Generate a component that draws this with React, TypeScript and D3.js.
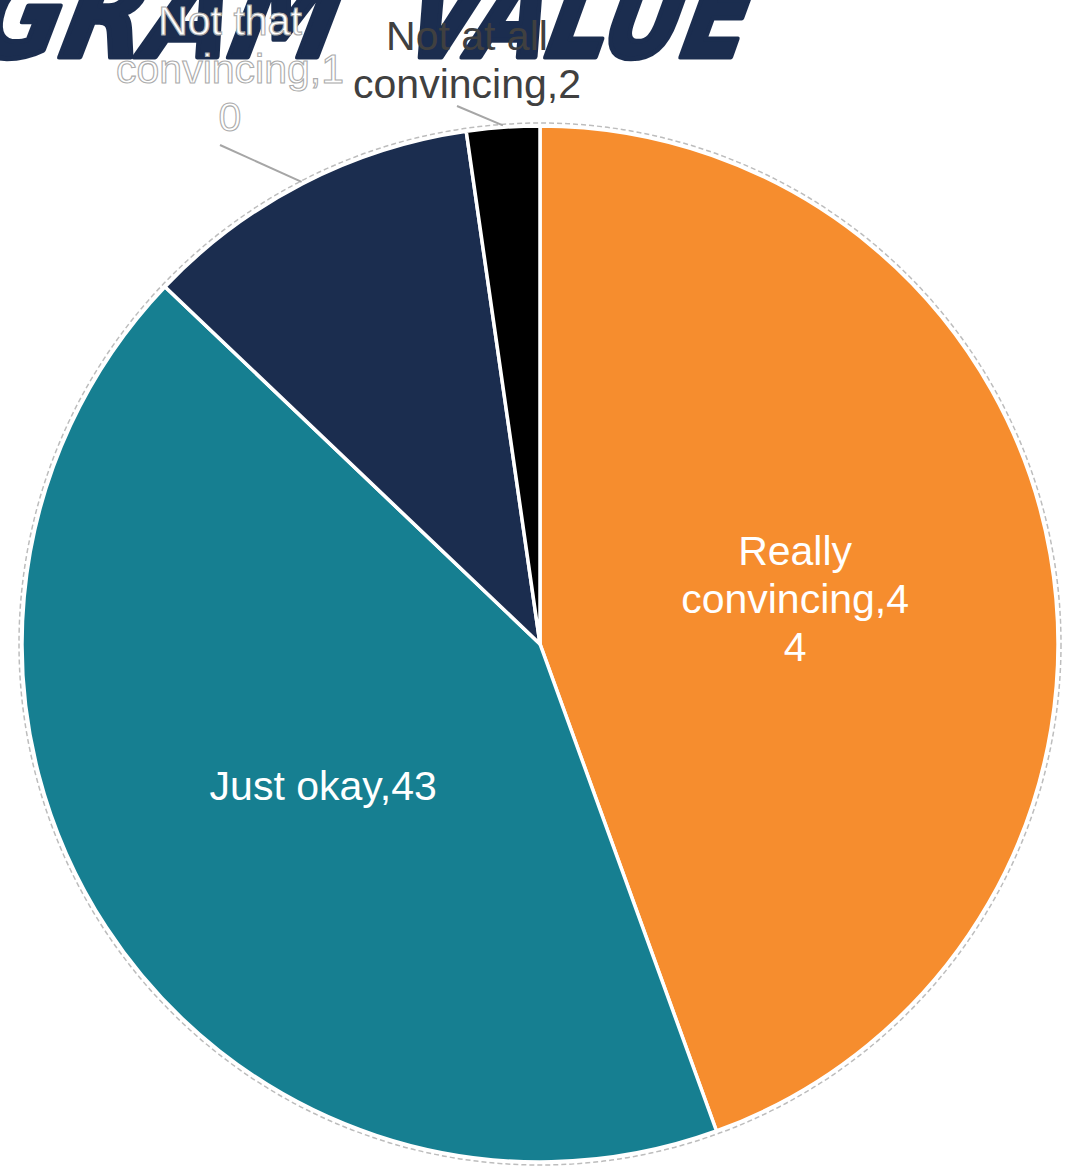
import React from "react";
import * as d3 from "d3";

const categories = ["Really convincing", "Just okay", "Not that convincing", "Not at all convincing"];
const values = [44, 42.2, 10.5, 2.25];
const valueLabels = ["44", "43", "10", "2"];
const colors = ["#f68d2e", "#167f91", "#1b2d4f", "#000000"];
const titleWords = ["PROGRAM", "VALUE"];

const W = 1068;
const H = 1166;
const cx = 540;
const cy = 644;
const R = 518;
const FONT = "'Liberation Sans', Arial, sans-serif";
const LINE = 48;

type Datum = { label: string; value: number; color: string; vlabel: string };
const data: Datum[] = categories.map((c, i) => ({ label: c, value: values[i], color: colors[i], vlabel: valueLabels[i] }));

// label text lines (Excel-style wrapping of "Category,Value")
const labelLines: string[][] = [
  ["Really", "convincing,4", "4"],
  ["Just okay,43"],
  ["Not that", "convincing,1", "0"],
  ["Not at all", "convincing,2"],
];

export default function App() {
  const pie = d3.pie<Datum>().value((d) => d.value).sort(null);
  const arcs = pie(data);
  const arc = d3.arc<d3.PieArcDatum<Datum>>().innerRadius(0).outerRadius(R);
  const outerPoint = d3.arc<d3.PieArcDatum<Datum>>().innerRadius(R + 2).outerRadius(R + 2);

  const outside: Record<number, { x: number; y: number; fill: string; stroke: string; lineEnd: [number, number] }> = {
    2: { x: 230, y: 35, fill: "#ffffff", stroke: "#ababab", lineEnd: [220, 145] },
    3: { x: 467, y: 50, fill: "#404040", stroke: "none", lineEnd: [457, 106] },
  };

  const skew = -12;
  const skewShift = -57 * Math.tan((skew * Math.PI) / 180);

  return (
    <svg
      width={W}
      height={H}
      style={{ position: "absolute", left: 0, top: 0, display: "block" }}
      viewBox={`0 0 ${W} ${H}`}
    >
      <rect x={0} y={0} width={W} height={H} fill="#ffffff" />
      <g
        fill="#1b2d4f"
        stroke="#1b2d4f"
        strokeWidth={5}
        strokeLinejoin="round"
        fontFamily="'DejaVu Sans Condensed', 'DejaVu Sans', sans-serif"
        fontWeight="bold"
        fontStyle="italic"
        fontSize={126}
        transform={`skewX(${skew})`}
      >
        <text x={-290 + skewShift} y={57} textLength={625} lengthAdjust="spacingAndGlyphs">
          {titleWords[0]}
        </text>
        <text x={400 + skewShift} y={57} textLength={345} lengthAdjust="spacingAndGlyphs">
          {titleWords[1]}
        </text>
      </g>

      <g transform={`translate(${cx},${cy})`}>
        <circle r={R + 3} fill="none" stroke="#bdbdbd" strokeWidth={1.5} strokeDasharray="5 3" />
        {arcs.map((a, i) => (
          <path key={i} d={arc(a) || ""} fill={a.data.color} stroke="#ffffff" strokeWidth={3.5} strokeLinejoin="round" />
        ))}
        {arcs.map((a, i) => {
          if (outside[i]) return null;
          const [x, y] = arc.centroid(a);
          const lines = labelLines[i];
          const n = lines.length;
          return (
            <text key={"l" + i} fill="#ffffff" fontFamily={FONT} fontSize={41} textAnchor="middle">
              {lines.map((t, k) => (
                <tspan key={k} x={x} y={y + (k - (n - 1) / 2) * LINE + 14}>
                  {t}
                </tspan>
              ))}
            </text>
          );
        })}
        {arcs.map((a, i) => {
          const o = outside[i];
          if (!o) return null;
          const [sx, sy] = outerPoint.centroid(a);
          return (
            <line
              key={"ll" + i}
              x1={o.lineEnd[0] - cx}
              y1={o.lineEnd[1] - cy}
              x2={sx}
              y2={sy}
              stroke="#a6a6a6"
              strokeWidth={2}
            />
          );
        })}
      </g>

      {arcs.map((a, i) => {
        const o = outside[i];
        if (!o) return null;
        const lines = labelLines[i];
        return (
          <text
            key={"o" + i}
            fill={o.fill}
            stroke={o.stroke}
            strokeWidth={o.stroke === "none" ? 0 : 1.1}
            fontFamily={FONT}
            fontSize={41}
            textAnchor="middle"
          >
            {lines.map((t, k) => (
              <tspan key={k} x={o.x} y={o.y + k * LINE}>
                {t}
              </tspan>
            ))}
          </text>
        );
      })}
    </svg>
  );
}
